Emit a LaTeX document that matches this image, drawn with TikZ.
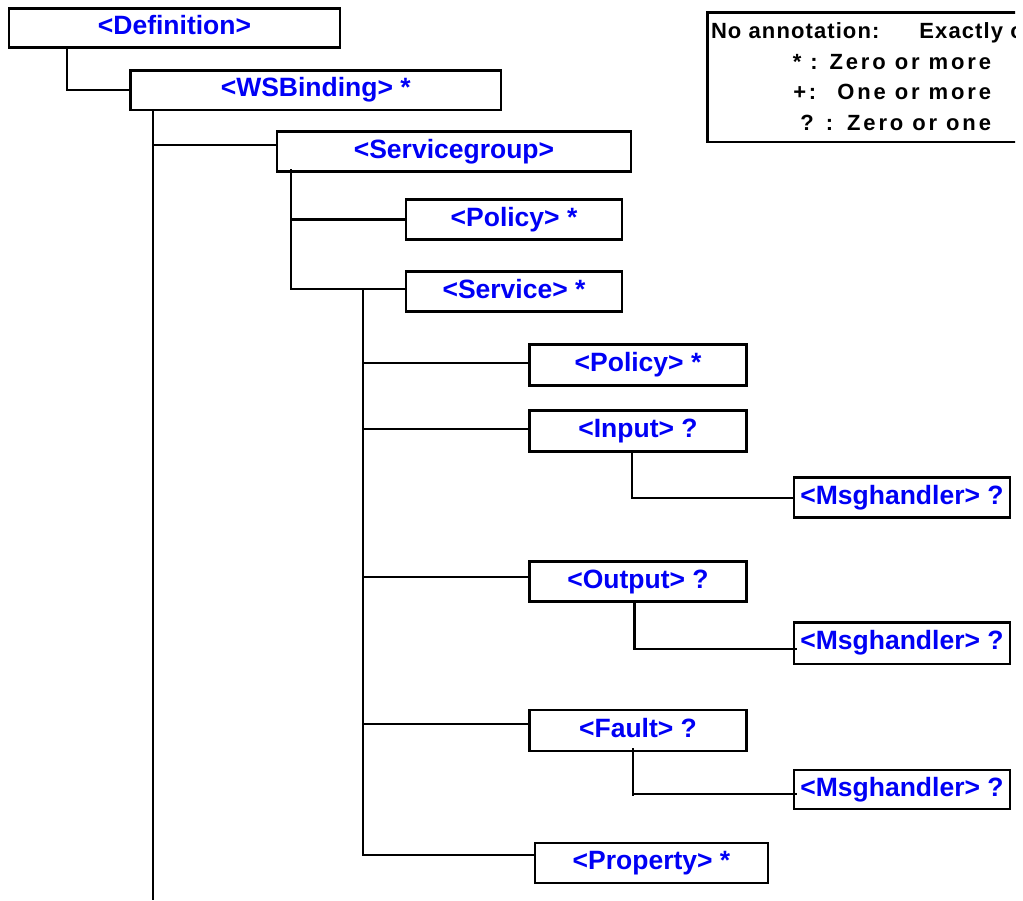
\documentclass[tikz,border=0pt]{standalone}
\usepackage{fontspec}
\setmainfont{Liberation Sans}
\newfontfamily\legfontA[LetterSpace=5]{Liberation Sans}
\newfontfamily\legfontB[LetterSpace=13]{Liberation Sans}
\definecolor{boxblue}{RGB}{0,0,245}
\begin{document}
\begin{tikzpicture}[x=1pt,y=-1pt,
  box/.style={draw=black, line width=2.7pt, rectangle, inner sep=0pt, outer sep=0pt,
    text=boxblue, font=\bfseries\fontsize{26.5}{26.5}\selectfont,
    text height=19pt, text depth=6pt},
  conn/.style={draw=black, line width=2.3pt},
  legline/.style={inner sep=0pt, outer sep=0pt, text=black}]
\useasboundingbox (0,0) rectangle (1023,900);
\fill[white] (0,0) rectangle (1023,900);

% boxes
\node[box, minimum width=331pt, minimum height=39pt] (def) at (174.5,28) {<Definition>};
\node[box, minimum width=370.5pt, minimum height=39.5pt] (wsb) at (315.75,90.25) {<WSBinding> *};
\node[box, minimum width=354pt, minimum height=40pt] (sg) at (454,151.75) {<Servicegroup>};
\node[box, minimum width=216pt, minimum height=39.5pt] (pol1) at (514,219.5) {<Policy> *};
\node[box, minimum width=216pt, minimum height=40pt] (svc) at (514,291.5) {<Service> *};
\node[box, minimum width=217pt, minimum height=41.5pt] (pol2) at (638,365) {<Policy> *};
\node[box, minimum width=217pt, minimum height=41pt] (inp) at (638,431) {<Input> ?};
\node[box, minimum width=216pt, minimum height=40pt] (msg1) at (902,497.7) {<Msghandler> ?};
\node[box, minimum width=217pt, minimum height=40pt] (out) at (638,581.7) {<Output> ?};
\node[box, minimum width=216pt, minimum height=41.3pt] (msg2) at (902,643.3) {<Msghandler> ?};
\node[box, minimum width=217pt, minimum height=41pt] (flt) at (638,730.5) {<Fault> ?};
\node[box, minimum width=216pt, minimum height=39pt] (msg3) at (902,789.5) {<Msghandler> ?};
\node[box, minimum width=233pt, minimum height=40pt] (prop) at (651.5,863) {<Property> *};

% connectors
\coordinate (bottom) at (0,900);
\coordinate (d1) at ([xshift=58pt]def.south west);
\draw[conn] (d1) |- (wsb.west);

\coordinate (wsbt) at ([xshift=22.5pt]wsb.south west);
\draw[conn] (wsbt) -- (wsbt |- bottom);
\coordinate (sgin) at ([yshift=-13.3pt]sg.north west);
\draw[conn] (wsbt |- sgin) -- (sgin);

\coordinate (sgt) at ([xshift=14.3pt,yshift=2.5pt]sg.south west);
\draw[conn] (sgt) |- (pol1.west);
\coordinate (svcin) at ([yshift=2.2pt]svc.west);
\draw[conn] (sgt) |- (svcin);

\coordinate (svct) at ([xshift=-43pt]svcin);
\coordinate (propin) at ([yshift=8pt]prop.west);
\draw[conn] (svct) |- (propin);
\coordinate (pol2in) at ([yshift=2.3pt]pol2.west);
\draw[conn] (svct |- pol2in) -- (pol2in);
\coordinate (inpin) at ([yshift=1.7pt]inp.west);
\draw[conn] (svct |- inpin) -- (inpin);
\coordinate (outin) at ([yshift=5pt]out.west);
\draw[conn] (svct |- outin) -- (outin);
\coordinate (fltin) at ([yshift=6.8pt]flt.west);
\draw[conn] (svct |- fltin) -- (fltin);

\draw[conn] ([xshift=-6pt]inp.south) |- (msg1.west);
\coordinate (m2in) at ([yshift=-5.4pt,xshift=3pt]msg2.west);
\draw[conn] ([xshift=-3.5pt]out.south) |- (m2in);
\coordinate (m3in) at ([yshift=-4.5pt,xshift=3pt]msg3.west);
\coordinate (ft) at ([xshift=-5.2pt,yshift=3pt]flt.south);
\draw[conn] (ft) -- ([yshift=-2pt]ft |- m3in);
\draw[conn] (ft |- m3in) -- (m3in);

% legend
\begin{scope}
\clip (0,0) rectangle (1015,900);
\node[draw=black, line width=2.5pt, inner sep=0pt, outer sep=0pt,
  minimum width=340pt, minimum height=129.5pt, anchor=north west] (legend) at (707.5,12.7) {};
\node[legline, font=\legfontA\bfseries\fontsize{22}{22}\selectfont, anchor=base west]
  (l1) at (711,38.5) {No annotation:\hspace{40pt}Exactly one};
\node[legline, font=\legfontB\bfseries\fontsize{22}{22}\selectfont, anchor=base east]
  (l2) at (991,69.5) {* : Zero or more};
\node[legline, font=\legfontB\bfseries\fontsize{22}{22}\selectfont, anchor=base east]
  (l3) at (991,99.5) {+:\hspace{21pt}One or more};
\node[legline, font=\legfontB\bfseries\fontsize{22}{22}\selectfont, anchor=base east]
  (l4) at (991,130) {? :\hspace{14pt}Zero or one};
\end{scope}
\end{tikzpicture}
\end{document}
